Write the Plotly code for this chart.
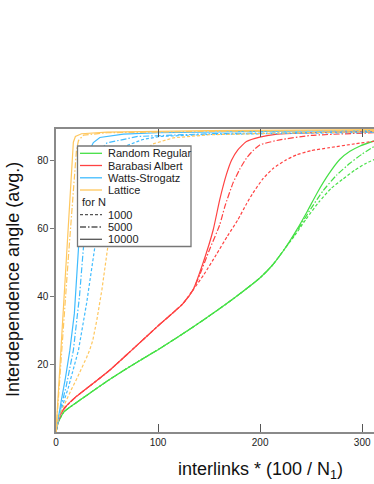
import plotly.graph_objects as go

# ---------------- data ----------------
# Random Regular
rr_x_10000 = [0, 2, 5, 8, 30, 52.5, 75, 100, 125, 150, 175, 200, 212, 224, 236, 246, 256, 267, 278, 288, 298, 312]
rr_y_10000 = [0, 2.8, 4.6, 6.0, 10.8, 15.5, 19.8, 24.3, 29.1, 34.2, 39.6, 45.5, 49.2, 54.0, 59.7, 65.0, 70.6, 76.0, 80.4, 82.8, 84.4, 85.9]
rr_x_5000 = [0, 2, 5, 8, 30, 52.5, 75, 100, 125, 150, 175, 200, 212, 224, 236, 250, 262, 275, 288, 300, 312]
rr_y_5000 = [0, 2.8, 4.6, 6.0, 10.8, 15.5, 19.8, 24.3, 29.1, 34.2, 39.6, 45.5, 49.2, 54.0, 59.3, 66.0, 71.3, 75.8, 79.3, 82.0, 84.3]
rr_x_1000 = [0, 2, 5, 8, 30, 52.5, 75, 100, 125, 150, 175, 200, 212, 224, 234, 245, 258, 270, 281, 293, 304, 312]
rr_y_1000 = [0, 2.8, 4.6, 6.0, 10.8, 15.5, 19.8, 24.3, 29.1, 34.2, 39.6, 45.5, 49.2, 54.0, 58.0, 62.8, 68.0, 72.0, 74.6, 77.3, 79.3, 80.4]

# Barabasi Albert
ba_x_10000 = [0, 2, 5, 9, 20, 35, 52.5, 75.8, 100, 124.4, 134.2, 144, 154, 160.4, 167, 172, 178, 186.6, 199.7, 215, 233, 260, 312]
ba_y_10000 = [0, 3.0, 5.5, 7.3, 10.5, 14.0, 18.2, 24.6, 31.3, 37.9, 41.9, 49.8, 59.6, 68.5, 76.0, 80.2, 83.2, 85.7, 87.0, 87.8, 88.1, 88.4, 88.7]
ba_x_5000 = [0, 2, 5, 9, 20, 35, 52.5, 75.8, 100, 124.4, 134.2, 141, 150, 160.4, 165.4, 173.5, 180, 186.6, 193, 199.7, 219.3, 250, 312]
ba_y_5000 = [0, 3.0, 5.5, 7.3, 10.5, 14.0, 18.2, 24.6, 31.3, 37.9, 41.9, 46.5, 53.5, 61.1, 66.5, 73.5, 77.5, 80.8, 83.0, 84.7, 86.2, 87.5, 88.3]
ba_x_1000 = [0, 2, 5, 9, 20, 35, 52.5, 75.8, 100, 124.4, 134, 145, 157, 168, 178, 187, 193, 203, 213, 225, 236, 250, 268, 290, 312]
ba_y_1000 = [0, 3.0, 5.5, 7.3, 10.5, 14.0, 18.2, 24.6, 31.3, 37.9, 41.8, 46.5, 52.3, 57.8, 62.5, 67.5, 70.5, 74.8, 77.8, 80.2, 81.8, 83.0, 83.9, 84.9, 85.8]

# Watts-Strogatz
ws_x_10000 = [0, 2, 5, 9, 13.5, 18, 20, 21.9, 24, 26, 28, 31.7, 36.6, 43, 66, 100, 200, 312]
ws_y_10000 = [0, 4.0, 9.0, 15.5, 24.0, 35.0, 44.0, 54.8, 65.0, 73.0, 79.0, 82.4, 85.4, 86.9, 87.9, 88.3, 88.7, 88.9]
ws_x_5000 = [0, 5, 10, 17, 23, 26.8, 30, 34, 40, 50, 80, 150, 312]
ws_y_5000 = [0, 7.5, 13.5, 24.1, 40.0, 54.8, 66.0, 76.0, 82.0, 85.3, 87.2, 88.0, 88.6]
ws_x_1000 = [0, 5, 12, 22, 30, 38, 43, 48, 55, 65, 85, 102, 150, 250, 312]
ws_y_1000 = [0, 6.5, 13.0, 24.1, 38.0, 54.8, 66.0, 75.0, 80.5, 84.0, 86.3, 87.2, 87.8, 88.2, 88.4]

# Lattice
la_x_10000 = [0, 2, 5, 8, 11.5, 14, 16, 17, 19, 25, 50, 150, 312]
la_y_10000 = [0, 10.0, 26.0, 41.0, 58.5, 71.0, 81.0, 85.5, 87.2, 88.0, 88.5, 88.9, 89.2]
la_x_5000 = [0, 2, 5, 8, 12, 15, 18, 20, 22, 27, 50, 150, 312]
la_y_5000 = [0, 8.0, 21.0, 34.0, 51.0, 64.0, 77.0, 83.0, 86.0, 87.6, 88.3, 88.7, 89.0]
la_x_1000 = [0, 2, 5, 10, 15, 20, 25, 30, 33, 36, 40, 45, 50.8, 56, 62, 70, 80, 95, 115, 150, 220, 312]
la_y_1000 = [0, 3.5, 6.0, 9.4, 12.5, 15.5, 18.5, 22.0, 24.2, 27.0, 33.0, 42.0, 54.7, 63.0, 70.0, 76.5, 81.5, 85.0, 86.8, 87.7, 88.2, 88.6]

network_names = ["Random Regular", "Barabasi Albert", "Watts-Strogatz", "Lattice"]
n_labels = ["1000", "5000", "10000"]
x_ticks = [0, 100, 200, 300]
y_ticks = [20, 40, 60, 80]

# ---------------- styles ----------------
colors = {"Random Regular": "#45e045", "Barabasi Albert": "#ff4242",
          "Watts-Strogatz": "#40bcff", "Lattice": "#ffc75e"}
dashes = {"1000": "3px,2px", "5000": "6px,2px,1.5px,2px", "10000": "solid"}
smooth = {"Random Regular": True, "Barabasi Albert": True, "Watts-Strogatz": False, "Lattice": False}

series = {
    "Random Regular": {"1000": (rr_x_1000, rr_y_1000), "5000": (rr_x_5000, rr_y_5000), "10000": (rr_x_10000, rr_y_10000)},
    "Barabasi Albert": {"1000": (ba_x_1000, ba_y_1000), "5000": (ba_x_5000, ba_y_5000), "10000": (ba_x_10000, ba_y_10000)},
    "Watts-Strogatz": {"1000": (ws_x_1000, ws_y_1000), "5000": (ws_x_5000, ws_y_5000), "10000": (ws_x_10000, ws_y_10000)},
    "Lattice": {"1000": (la_x_1000, la_y_1000), "5000": (la_x_5000, la_y_5000), "10000": (la_x_10000, la_y_10000)},
}

fig = go.Figure()
for name in network_names:
    for n in n_labels:
        xs, ys = series[name][n]
        line = dict(color=colors[name], width=1.2, dash=dashes[n])
        if smooth[name]:
            line.update(shape="spline", smoothing=0.5)
        fig.add_trace(go.Scatter(x=xs, y=ys, mode="lines", name=f"{name} {n}",
                                 line=line, showlegend=False, hoverinfo="skip"))

W, H = 374, 484
ML, MR, MT, MB = 56, 0, 129, 52
PW, PH = W - ML - MR, H - MT - MB


def px_x(px):
    """page pixel x -> paper coordinate"""
    return (px - ML) / PW


def px_y(py):
    """page pixel y -> paper coordinate"""
    return (H - MB - py) / PH


shapes = []
annotations = []

# custom legend box
shapes.append(dict(type="rect", xref="paper", yref="paper",
                   x0=px_x(77.5), x1=px_x(191), y0=px_y(246.5), y1=px_y(146),
                   fillcolor="white", line=dict(color="#777777", width=1.3), layer="above"))
row_y = [153.3, 165.5, 177.8, 190.0, 202.3, 214.7, 227.0, 239.3]
items = [(nm, colors[nm], "solid") for nm in network_names] + [("for N", None, None)] + \
        [(n, "#555555", dashes[n]) for n in n_labels]
for (label, col, dsh), ry in zip(items, row_y):
    if col is None:
        annotations.append(dict(xref="paper", yref="paper", x=px_x(79.5), y=px_y(ry),
                                text=label, showarrow=False, xanchor="left", yanchor="middle",
                                font=dict(size=11, color="#222222")))
        continue
    shapes.append(dict(type="line", xref="paper", yref="paper", x0=px_x(80), x1=px_x(102),
                       y0=px_y(ry), y1=px_y(ry), line=dict(color=col, width=1.3, dash=dsh),
                       layer="above"))
    annotations.append(dict(xref="paper", yref="paper", x=px_x(105.5), y=px_y(ry),
                            text=label, showarrow=False, xanchor="left", yanchor="middle",
                            font=dict(size=11, color="#222222")))

# axis titles
annotations.append(dict(xref="paper", yref="paper", x=px_x(260), y=px_y(470),
                        text="interlinks * (100 / N<sub>1</sub>)", showarrow=False,
                        xanchor="center", yanchor="middle",
                        font=dict(size=18, color="#111111")))
annotations.append(dict(xref="paper", yref="paper", x=px_x(13), y=px_y(280),
                        text="Interdependence angle (avg.)", showarrow=False, textangle=-90,
                        xanchor="center", yanchor="middle",
                        font=dict(size=18, color="#111111")))

fig.update_layout(
    width=W, height=H,
    margin=dict(l=ML, r=MR, t=MT, b=MB, pad=0),
    paper_bgcolor="white", plot_bgcolor="white",
    font=dict(family="Liberation Sans, Arial, sans-serif", color="#222222"),
    showlegend=False,
    shapes=shapes, annotations=annotations,
    xaxis=dict(range=[0, 311.6], tickvals=x_ticks, ticktext=[str(v) for v in x_ticks],
               showgrid=False, zeroline=False, showline=True, linecolor="#8a8a8a", linewidth=1.5,
               mirror="ticks", ticks="inside", ticklen=8, tickwidth=1, tickcolor="#555555",
               tickfont=dict(size=10, color="#222222")),
    yaxis=dict(range=[0, 89.4], tickvals=y_ticks, ticktext=[str(v) for v in y_ticks],
               showgrid=False, zeroline=False, showline=True, linecolor="#8a8a8a", linewidth=1.5,
               ticks="outside", ticklen=4, tickwidth=1, tickcolor="#777777",
               tickfont=dict(size=10, color="#222222")),
)

# remove the browser's default page margin so the figure fills the window exactly
fig.write_html("out.html", config={"displayModeBar": False},
               post_script="document.body.style.margin='0';document.body.style.overflow='hidden';")
